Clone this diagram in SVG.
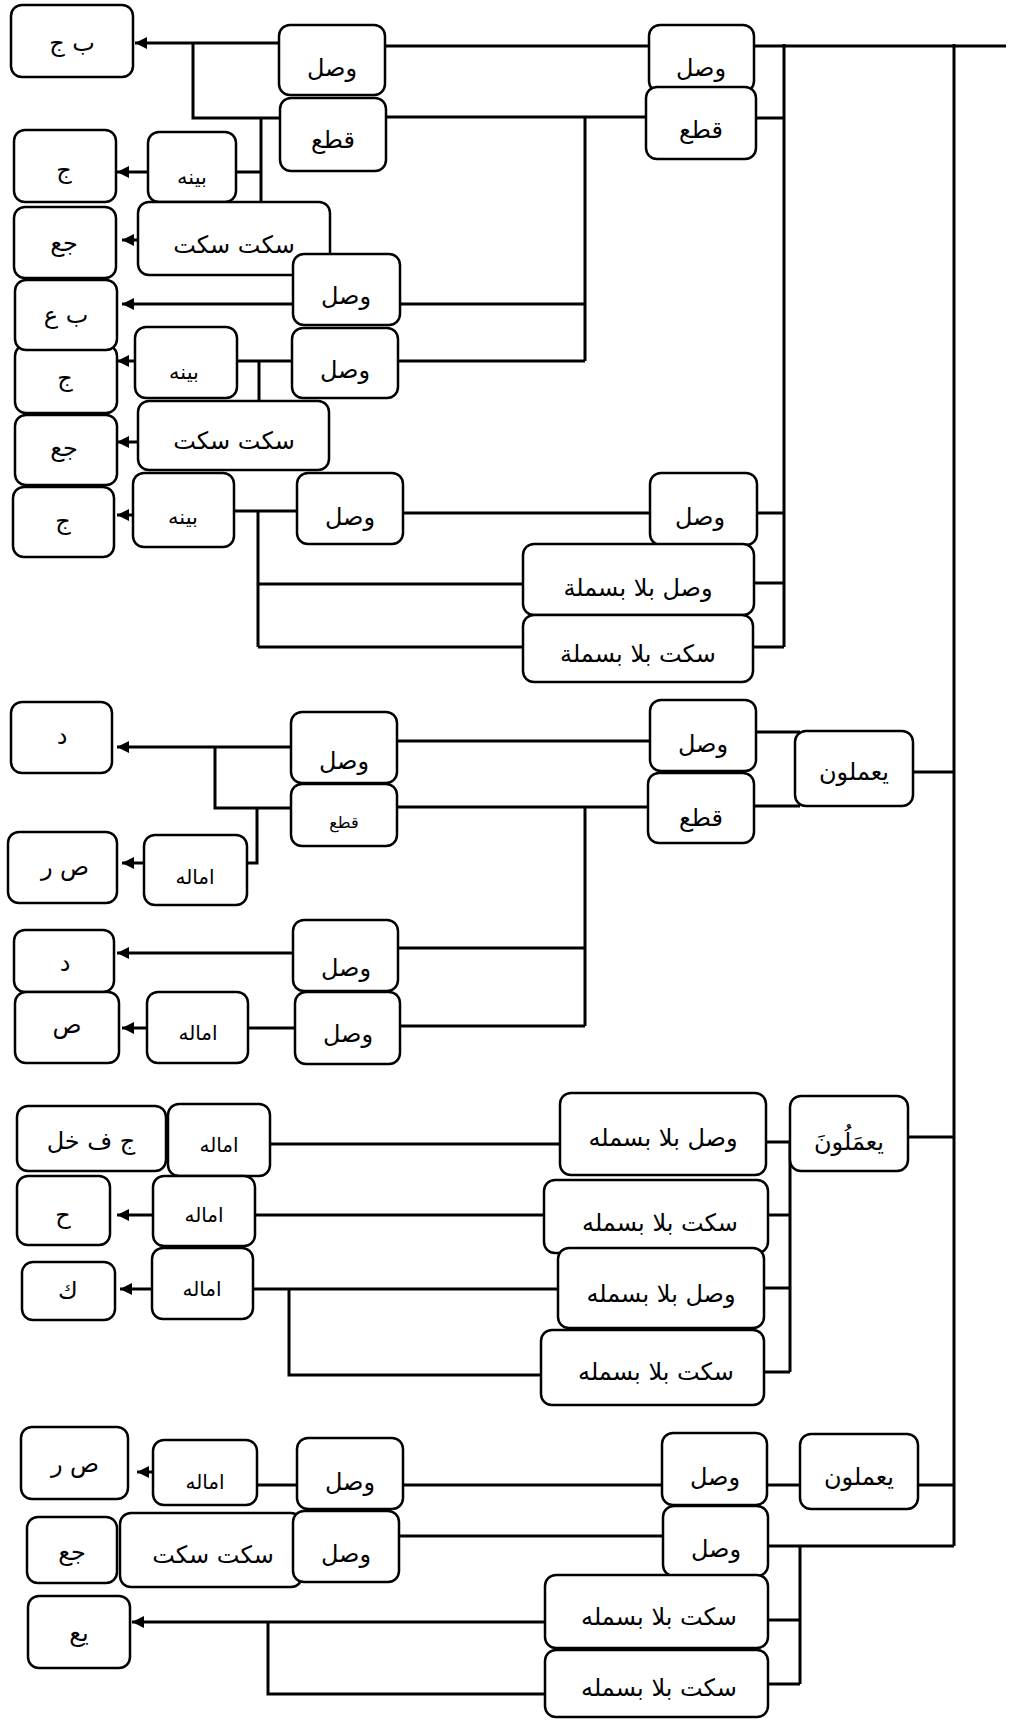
<svg xmlns="http://www.w3.org/2000/svg" width="1012" height="1720" viewBox="0 0 1012 1720">
<style>
.n rect{fill:#fff;stroke:#000;stroke-width:2.5}
text{font-family:"DejaVu Sans",sans-serif;font-size:24px;fill:#000;text-anchor:middle;dominant-baseline:central}
text.s{font-size:16px}
text.b{font-size:21px}
text.m{font-size:20px}
.c line,.c path{stroke:#000;stroke-width:3;fill:none}
</style>
<defs>
<marker id="ah" markerUnits="userSpaceOnUse" markerWidth="14" markerHeight="14" refX="12" refY="6" orient="auto">
<path d="M0,0 L12,6 L0,12 z" fill="#000"/>
</marker>
</defs>
<rect width="1012" height="1720" fill="#fff"/>
<g class="c" id="connectors">
<line x1="279" y1="43" x2="135" y2="43" marker-end="url(#ah)"/>
<path d="M193,43 V118 H280"/>
<path d="M261,118 V201 M236,172 H261"/>
<line x1="148" y1="172" x2="117" y2="172" marker-end="url(#ah)"/>
<line x1="138" y1="240" x2="122" y2="240" marker-end="url(#ah)"/>
<line x1="385" y1="46" x2="1006" y2="46"/>
<line x1="386" y1="117" x2="652" y2="117"/>
<path d="M585,117 V361 M400,304 H585 M398,361 H585"/>
<path d="M784,44 V647 M756,118 H784 M757,513 H784 M754,583 H784 M753,647 H784"/>
<line x1="954" y1="44" x2="954" y2="1546"/>
<line x1="293" y1="304" x2="122" y2="304" marker-end="url(#ah)"/>
<path d="M237,361 H292 M259,361 V400"/>
<line x1="135" y1="361" x2="117" y2="361" marker-end="url(#ah)"/>
<line x1="138" y1="442" x2="117" y2="442" marker-end="url(#ah)"/>
<line x1="133" y1="515" x2="117" y2="515" marker-end="url(#ah)"/>
<path d="M234,511 H297 M258,511 V647 M258,584 H523 M258,647 H523 M403,513 H650"/>
<line x1="291" y1="747" x2="117" y2="747" marker-end="url(#ah)"/>
<path d="M215,747 V808 H291 M257,808 V863 H247"/>
<line x1="144" y1="863" x2="122" y2="863" marker-end="url(#ah)"/>
<path d="M397,741 H650 M397,807 H648 M585,807 V1026 M398,948 H585 M400,1026 H585"/>
<line x1="293" y1="953" x2="117" y2="953" marker-end="url(#ah)"/>
<line x1="147" y1="1028" x2="122" y2="1028" marker-end="url(#ah)"/>
<path d="M248,1028 H295 M756,732 H800 M754,806 H800 M913,772 H954"/>
<path d="M270,1144 H564 M255,1215 H544 M253,1289 H558 M289,1289 V1375 H541"/>
<line x1="153" y1="1215" x2="117" y2="1215" marker-end="url(#ah)"/>
<line x1="152" y1="1289" x2="120" y2="1289" marker-end="url(#ah)"/>
<path d="M766,1142 H790 M790,1142 V1372 M768,1215 H790 M764,1288 H790 M764,1372 H790 M908,1137 H954"/>
<line x1="153" y1="1472" x2="137" y2="1472" marker-end="url(#ah)"/>
<path d="M257,1485 H297 M403,1485 H662 M767,1485 H800 M918,1485 H954 M399,1536 H663 M768,1546 H954 M800,1546 V1684 M768,1620 H800 M768,1684 H800"/>
<line x1="128" y1="1546" x2="119" y2="1546" marker-end="url(#ah)"/>
<line x1="545" y1="1622" x2="132" y2="1622" marker-end="url(#ah)"/>
<path d="M268,1622 V1694 H545"/>
</g>
<g class="n" id="n1"><rect x="11" y="5" width="122" height="72" rx="11"/><text x="72" y="43">ب ج</text></g>
<g class="n" id="n2"><rect x="279" y="25" width="106" height="70" rx="11"/><text x="332" y="68">وصل</text></g>
<g class="n" id="n3"><rect x="280" y="98" width="106" height="73" rx="11"/><text x="333" y="140">قطع</text></g>
<g class="n" id="n4"><rect x="649" y="25" width="105" height="67" rx="11"/><text x="701" y="68">وصل</text></g>
<g class="n" id="n5"><rect x="646" y="87" width="110" height="72" rx="11"/><text x="701" y="130">قطع</text></g>
<g class="n" id="n6"><rect x="148" y="132" width="88" height="70" rx="11"/><text class="b" x="192" y="177">بينه</text></g>
<g class="n" id="n7"><rect x="14" y="130" width="102" height="72" rx="11"/><text x="64" y="170">ج</text></g>
<g class="n" id="n8"><rect x="14" y="207" width="102" height="71" rx="11"/><text x="64" y="243">جع</text></g>
<g class="n" id="n9"><rect x="138" y="202" width="192" height="73" rx="11"/><text x="234" y="245">سكت سكت</text></g>
<g class="n" id="n10"><rect x="293" y="254" width="107" height="71" rx="11"/><text x="346" y="296">وصل</text></g>
<g class="n" id="n12"><rect x="15" y="345" width="102" height="68" rx="11"/><text x="65" y="378">ج</text></g>
<g class="n" id="n11"><rect x="15" y="280" width="102" height="70" rx="11"/><text x="66" y="315">ب ع</text></g>
<g class="n" id="n13"><rect x="292" y="328" width="106" height="70" rx="11"/><text x="345" y="370">وصل</text></g>
<g class="n" id="n14"><rect x="135" y="327" width="102" height="71" rx="11"/><text class="b" x="184" y="372">بينه</text></g>
<g class="n" id="n15"><rect x="15" y="415" width="102" height="70" rx="11"/><text x="64" y="448">جع</text></g>
<g class="n" id="n16"><rect x="138" y="401" width="191" height="69" rx="11"/><text x="234" y="441">سكت سكت</text></g>
<g class="n" id="n17"><rect x="13" y="487" width="101" height="70" rx="11"/><text x="63" y="521">ج</text></g>
<g class="n" id="n18"><rect x="133" y="473" width="101" height="74" rx="11"/><text class="b" x="183" y="517">بينه</text></g>
<g class="n" id="n19"><rect x="297" y="473" width="106" height="71" rx="11"/><text x="350" y="517">وصل</text></g>
<g class="n" id="n20"><rect x="650" y="473" width="107" height="72" rx="11"/><text x="700" y="517">وصل</text></g>
<g class="n" id="n21"><rect x="523" y="544" width="231" height="71" rx="11"/><text x="638" y="588">وصل بلا بسملة</text></g>
<g class="n" id="n22"><rect x="523" y="615" width="230" height="67" rx="11"/><text x="638" y="654">سكت بلا بسملة</text></g>
<g class="n" id="n23"><rect x="11" y="702" width="101" height="71" rx="11"/><text x="62" y="736">د</text></g>
<g class="n" id="n24"><rect x="291" y="712" width="106" height="71" rx="11"/><text x="344" y="761">وصل</text></g>
<g class="n" id="n25"><rect x="291" y="784" width="106" height="62" rx="11"/><text class="s" x="344" y="822">قطع</text></g>
<g class="n" id="n26"><rect x="8" y="832" width="109" height="71" rx="11"/><text x="65" y="867">ص ر</text></g>
<g class="n" id="n27"><rect x="144" y="835" width="103" height="70" rx="11"/><text class="m" x="195" y="877">اماله</text></g>
<g class="n" id="n29"><rect x="14" y="930" width="100" height="62" rx="11"/><text x="65" y="963">د</text></g>
<g class="n" id="n28"><rect x="293" y="920" width="105" height="71" rx="11"/><text x="346" y="968">وصل</text></g>
<g class="n" id="n30"><rect x="15" y="992" width="104" height="71" rx="11"/><text x="67" y="1025">ص</text></g>
<g class="n" id="n31"><rect x="147" y="992" width="101" height="71" rx="11"/><text class="m" x="198" y="1033">اماله</text></g>
<g class="n" id="n32"><rect x="295" y="992" width="105" height="72" rx="11"/><text x="348" y="1034">وصل</text></g>
<g class="n" id="n33"><rect x="650" y="700" width="106" height="71" rx="11"/><text x="703" y="744">وصل</text></g>
<g class="n" id="n34"><rect x="648" y="773" width="106" height="70" rx="11"/><text x="701" y="818">قطع</text></g>
<g class="n" id="n35"><rect x="795" y="731" width="118" height="75" rx="11"/><text x="854" y="772">يعملون</text></g>
<g class="n" id="n36"><rect x="17" y="1106" width="149" height="65" rx="11"/><text x="91" y="1141">ج ف خل</text></g>
<g class="n" id="n37"><rect x="168" y="1104" width="102" height="72" rx="11"/><text class="m" x="219" y="1145">اماله</text></g>
<g class="n" id="n38"><rect x="17" y="1176" width="93" height="69" rx="11"/><text x="63" y="1215">ح</text></g>
<g class="n" id="n39"><rect x="153" y="1176" width="102" height="70" rx="11"/><text class="m" x="204" y="1215">اماله</text></g>
<g class="n" id="n40"><rect x="22" y="1262" width="93" height="58" rx="11"/><text x="68" y="1291">ك</text></g>
<g class="n" id="n41"><rect x="152" y="1248" width="101" height="71" rx="11"/><text class="m" x="202" y="1289">اماله</text></g>
<g class="n" id="n42"><rect x="560" y="1093" width="206" height="82" rx="11"/><text x="663" y="1138">وصل بلا بسمله</text></g>
<g class="n" id="n43"><rect x="544" y="1180" width="224" height="73" rx="11"/><text x="660" y="1223">سكت بلا بسمله</text></g>
<g class="n" id="n44"><rect x="558" y="1248" width="206" height="80" rx="11"/><text x="661" y="1294">وصل بلا بسمله</text></g>
<g class="n" id="n45"><rect x="541" y="1330" width="223" height="75" rx="11"/><text x="656" y="1372">سكت بلا بسمله</text></g>
<g class="n" id="n46"><rect x="790" y="1096" width="118" height="75" rx="11"/><text x="849" y="1142">يعمَلُونَ</text></g>
<g class="n" id="n47"><rect x="21" y="1427" width="107" height="72" rx="11"/><text x="75" y="1464">ص ر</text></g>
<g class="n" id="n48"><rect x="153" y="1440" width="104" height="65" rx="11"/><text class="m" x="205" y="1482">اماله</text></g>
<g class="n" id="n49"><rect x="297" y="1438" width="106" height="71" rx="11"/><text x="350" y="1482">وصل</text></g>
<g class="n" id="n50"><rect x="27" y="1517" width="90" height="66" rx="11"/><text x="72" y="1552">جع</text></g>
<g class="n" id="n51"><rect x="120" y="1513" width="182" height="74" rx="11"/><text x="213" y="1555">سكت سكت</text></g>
<g class="n" id="n52"><rect x="293" y="1511" width="106" height="71" rx="11"/><text x="346" y="1554">وصل</text></g>
<g class="n" id="n53"><rect x="28" y="1596" width="102" height="72" rx="11"/><text x="79" y="1633">يع</text></g>
<g class="n" id="n54"><rect x="662" y="1433" width="105" height="72" rx="11"/><text x="715" y="1477">وصل</text></g>
<g class="n" id="n55"><rect x="800" y="1434" width="118" height="75" rx="11"/><text x="859" y="1477">يعملون</text></g>
<g class="n" id="n56"><rect x="663" y="1506" width="105" height="70" rx="11"/><text x="716" y="1549">وصل</text></g>
<g class="n" id="n57"><rect x="545" y="1575" width="223" height="73" rx="11"/><text x="659" y="1617">سكت بلا بسمله</text></g>
<g class="n" id="n58"><rect x="545" y="1650" width="223" height="67" rx="11"/><text x="659" y="1688">سكت بلا بسمله</text></g>
</svg>
